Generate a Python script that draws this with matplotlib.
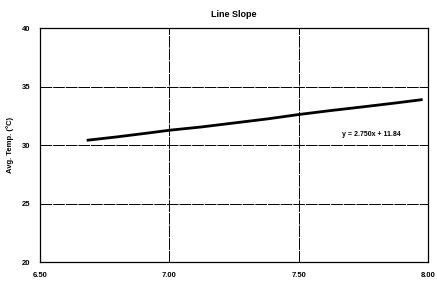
import matplotlib.pyplot as plt

# values
ph = [6.68, 6.80, 6.92, 7.00, 7.12, 7.25, 7.38, 7.50, 7.62, 7.75, 7.88, 7.98]
temp = [30.42, 30.72, 31.05, 31.28, 31.55, 31.90, 32.25, 32.62, 32.95, 33.28, 33.62, 33.90]
x_ticks = [6.50, 7.00, 7.50, 8.00]
y_ticks = [20, 25, 30, 35, 40]

plt.rcParams['font.family'] = ['Liberation Sans', 'DejaVu Sans']

fig = plt.figure(figsize=(4.37, 2.87), dpi=100)
ax = fig.add_axes([0.092, 0.086, 0.887, 0.816])

ax.plot(ph, temp, color='black', linewidth=2.0, solid_capstyle='butt')

ax.set_xlim(6.5, 8.0)
ax.set_ylim(20, 40)
ax.set_xticks(x_ticks)
ax.set_xticklabels([f'{v:.2f}' for v in x_ticks], fontsize=5.5, fontweight='bold')
ax.set_yticks(y_ticks)
ax.set_yticklabels([str(v) for v in y_ticks], fontsize=5.5, fontweight='bold')
ax.tick_params(length=0, pad=7)
ax.grid(True, color='black', linewidth=0.7, linestyle=(0, (12, 1)))
for s in ax.spines.values():
    s.set_linewidth(0.9)
    s.set_color('black')

ax.set_title('Line Slope', fontsize=6.5, fontweight='bold', pad=8)
ax.set_ylabel('Avg. Temp. (°C)', fontsize=5.5, fontweight='bold', labelpad=6)
ax.text(7.78, 30.95, 'y = 2.750x + 11.84', fontsize=5, fontweight='bold',
        ha='center', va='center')

plt.savefig('out.png', dpi=100)
